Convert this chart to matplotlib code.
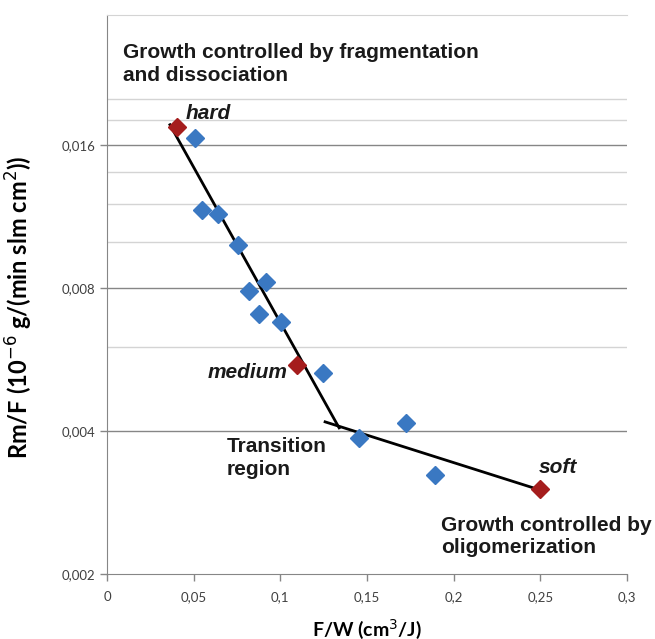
import numpy as np
import matplotlib.pyplot as plt
from matplotlib.ticker import FixedLocator, NullFormatter

# measured samples (blue) and reference samples (red)
fw_blue = [0.0508, 0.0548, 0.064, 0.0756, 0.0917, 0.0819, 0.0877, 0.1004, 0.1246, 0.1725, 0.1454, 0.1892]
rm_blue = [0.0165, 0.01168, 0.01145, 0.00985, 0.00824, 0.00788, 0.00705, 0.00678, 0.0053, 0.00416, 0.00387, 0.00323]
fw_red = [0.0404, 0.1096, 0.25]
rm_red = [0.01746, 0.00551, 0.00302]
red_names = ["hard", "medium", "soft"]

# hand drawn trend lines
trend1_x = [0.0363, 0.1339]
trend1_y = [0.01763, 0.00406]
trend2_x = [0.1258, 0.2504]
trend2_y = [0.00418, 0.00300]

y_major = [0.002, 0.004, 0.008, 0.016]
y_major_labels = ["0,002", "0,004", "0,008", "0,016"]
y_minor = [0.006, 0.010, 0.012, 0.014, 0.018, 0.020]
x_ticks = [0, 0.05, 0.1, 0.15, 0.2, 0.25, 0.3]
x_labels = ["0", "0,05", "0,1", "0,15", "0,2", "0,25", "0,3"]

fig = plt.figure(figsize=(6.55, 6.39), dpi=100)
ax = fig.add_axes([0.1634, 0.1017, 0.7939, 0.8748])

ax.set_yscale("log", base=2)
ax.set_ylim(0.002, 0.030)
ax.set_xlim(0, 0.3)

major_col = "#868686"
minor_col = "#d4d4d4"
for v in y_minor:
    ax.axhline(v, color=minor_col, lw=1.0, zorder=0)
for v in y_major[1:]:
    ax.axhline(v, color=major_col, lw=1.0, zorder=0)

ax.yaxis.set_major_locator(FixedLocator(y_major))
ax.yaxis.set_minor_locator(FixedLocator([]))
ax.yaxis.set_minor_formatter(NullFormatter())
ax.set_yticklabels(y_major_labels)
ax.set_xticks(x_ticks)
ax.set_xticklabels(x_labels)

for s in ["left", "bottom"]:
    ax.spines[s].set_color(major_col)
ax.spines["right"].set_visible(False)
ax.spines["top"].set_color(minor_col)
ax.tick_params(axis="both", colors=major_col, length=5, width=1, labelcolor="#404040",
               labelsize=9.5)
for lab in ax.get_xticklabels() + ax.get_yticklabels():
    lab.set_family("Lato")
ax.tick_params(axis="x", pad=7)

ax.plot(trend1_x, trend1_y, color="black", lw=2, zorder=2)
ax.plot(trend2_x, trend2_y, color="black", lw=2, zorder=2)
ax.plot(fw_blue, rm_blue, "D", color="#3a78c2", ms=9, mec="#3a78c2", zorder=3)
ax.plot(fw_red, rm_red, "D", color="#a51d1d", ms=9, mec="#a51d1d", zorder=3)

txt = dict(family="Liberation Sans", fontsize=15, fontweight="bold", color="#1a1a1a")
ax.text(0.0455, 0.01814, red_names[0], style="italic", **txt)
ax.text(0.104, 0.0053, red_names[1], style="italic", ha="right", va="center", **txt)
ax.text(0.2492, 0.003265, red_names[2], style="italic", **txt)

ax.text(0.0092, 0.0262, "Growth controlled by fragmentation\nand dissociation",
        va="top", linespacing=1.25, **txt)
ax.text(0.0692, 0.00388, "Transition\nregion", va="top", linespacing=1.22, **txt)
ax.text(0.1927, 0.00265, "Growth controlled by\noligomerization", va="top", linespacing=1.22, **txt)

ax.set_xlabel("F/W (cm$^3$/J)", family="Lato", fontweight="bold", fontsize=14, labelpad=10)
ax.set_ylabel("Rm/F (10$^{-6}$ g/(min slm cm$^2$))", family="Lato", fontweight="bold",
              fontsize=17)
ax.yaxis.set_label_coords(-0.1385, 0.4776)

fig.savefig("out.png", dpi=100)
